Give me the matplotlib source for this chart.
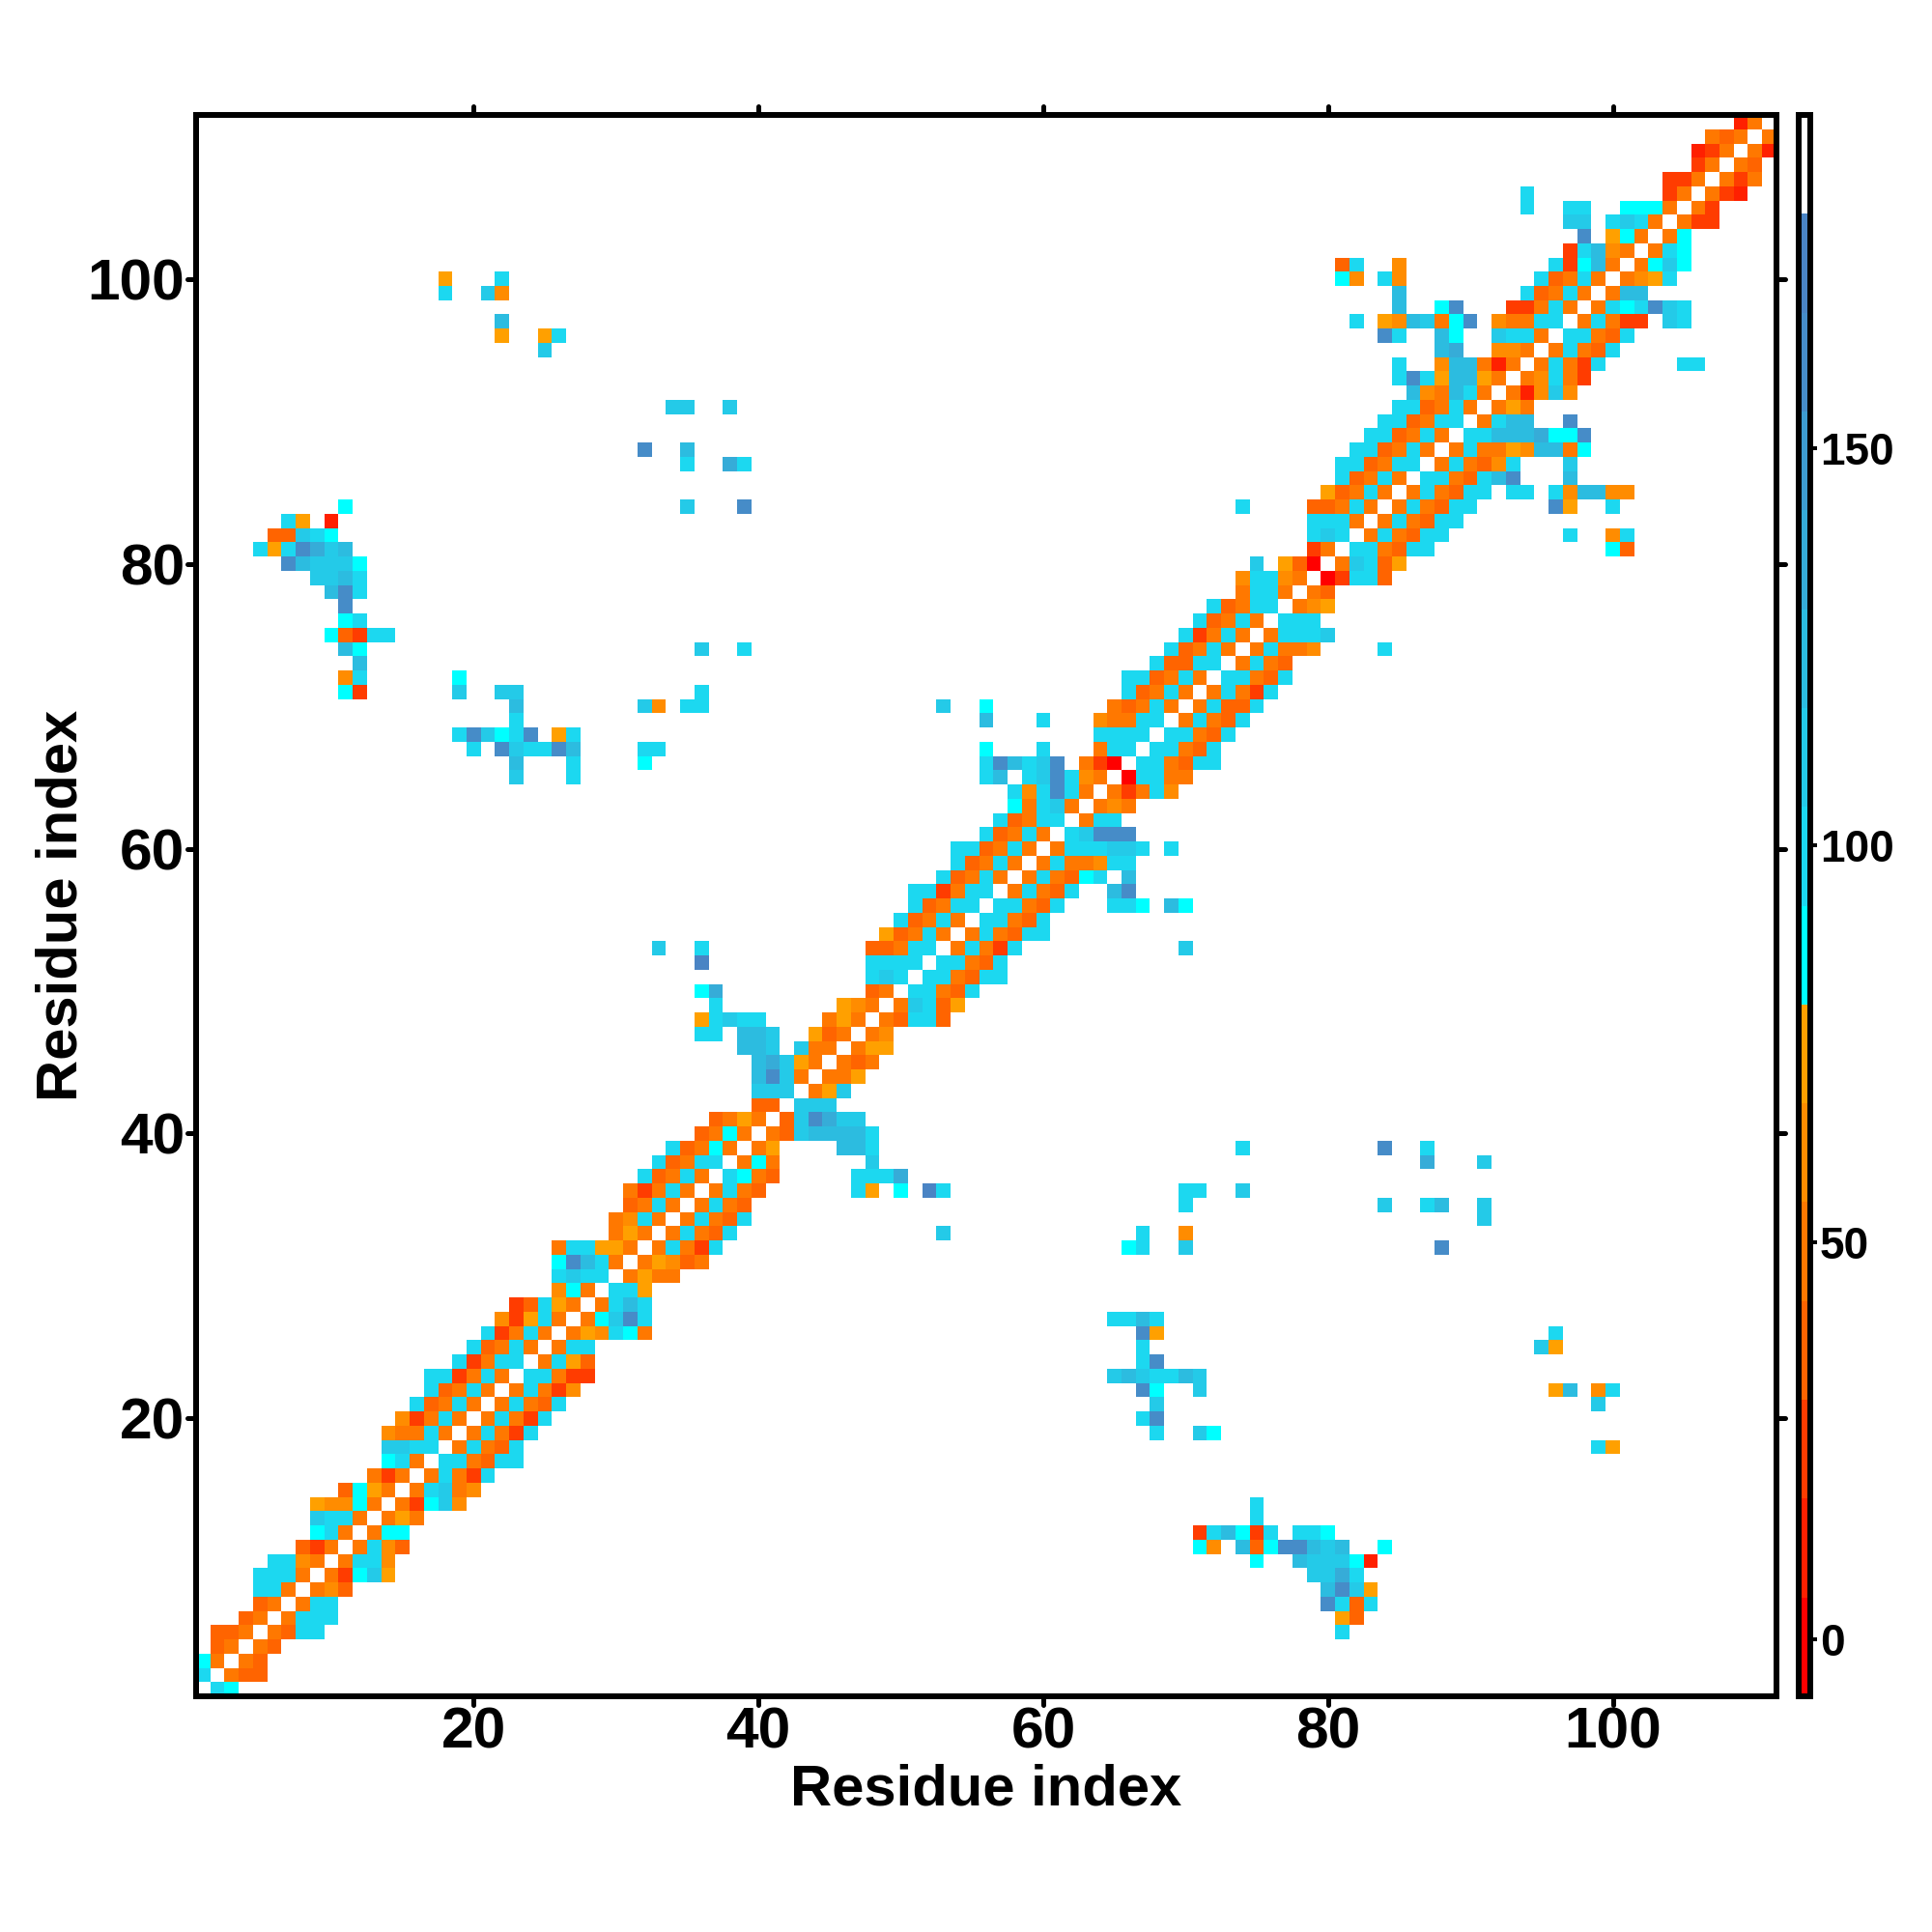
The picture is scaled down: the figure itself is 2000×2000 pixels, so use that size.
import numpy as np
import matplotlib

matplotlib.use("Agg")  # headless
import matplotlib.pyplot as plt
from matplotlib.colors import ListedColormap, BoundaryNorm
from matplotlib.markers import MarkerStyle

plt.rcParams["font.family"] = ["Liberation Sans", "DejaVu Sans"]
plt.rcParams["font.weight"] = "bold"

n_res = 111

# colour classes of the key, red at the bottom, white at the top
key_colors = ["#ff0000", "#ff2000", "#ff3c00", "#ff6400", "#ff7800", "#ff8c00", "#ffa000",
              "#00ffff", "#1cd8f0", "#24cae8", "#2cbce0", "#36acd8", "#3e9cd0", "#468cc8", "#4a84c4",
              "#ffffff"]
key_edges = np.linspace(-7.2, 192.0, 17)
key_centers = (key_edges[:-1] + key_edges[1:]) / 2
key_ticks = [0, 50, 100, 150]
res_ticks = [20, 40, 60, 80, 100]

# one string per residue i, classes (hex) for j = i+1, i+2, ...
near_rows = [
    "87", "433", "43", "43", "4388", "4888", "488", "453", "42796", "4885",
    "4853", "477", "464", "42795", "48945", "48428", "884388", "48438", "48428", "48428",
    "48438", "48425", "88422", "4863", "488", "465874", "479d8", "48a8", "886", "4644",
    "46534", "48428", "48438", "48438", "4843", "4843", "8743", "474", "46", "439aaaa8",
    "39db99", "999", "469", "446", "434", "466", "45", "43883", "49836", "88438",
    "884388", "88438", "48428", "484388", "88438", "88438", "48438", "484378", "4844588", "4888998",
    "89ddd", "488", "454", "42485", "08844", "884388", "88438", "88438", "48438", "48338",
    "48428", "88438", "4843", "48445", "48889", "888", "456", "43", "02883", "49836",
    "884388", "484388", "484388", "484388", "484388", "88438ad", "484358", "484465aa47", "88aaab77d", "48aa",
    "464", "41595", "45842", "48428", "48438", "88438", "48422", "4878d98", "4aa", "4568",
    "4797", "487", "47", "422", "42", "421", "424", "43", "41", "4",
]

# contacts away from the diagonal, residue i -> {residue j: class}
far_rows = {
    5: {81: "8"},
    6: {81: "6", 82: "3"},
    7: {80: "d", 81: "8", 82: "3", 83: "8"},
    8: {80: "a", 81: "d", 82: "9", 83: "6"},
    9: {79: "9", 80: "9", 81: "b", 82: "8"},
    10: {75: "7", 78: "a", 79: "9", 80: "9", 81: "9", 82: "7", 83: "1"},
    11: {71: "7", 72: "5", 74: "a", 75: "3", 76: "7", 77: "d", 78: "d", 79: "a", 80: "9", 81: "a", 84: "7"},
    12: {71: "2", 72: "8", 73: "a", 74: "7", 75: "2", 76: "8", 78: "8", 79: "8", 80: "7"},
    13: {75: "8"},
    14: {75: "8"},
    18: {99: "8", 100: "6"},
    19: {68: "8", 71: "9", 72: "7"},
    20: {67: "8", 68: "d"},
    21: {68: "9", 99: "9"},
    22: {67: "d", 68: "7", 71: "9", 96: "6", 97: "a", 99: "5", 100: "8"},
    23: {65: "9", 66: "a", 67: "9", 68: "8", 69: "8", 70: "a", 71: "9"},
    24: {67: "8", 68: "d"},
    25: {67: "8", 95: "9", 96: "6"},
    26: {67: "d", 68: "6", 96: "8"},
    27: {65: "8", 66: "8", 67: "a", 68: "8"},
    32: {66: "7", 67: "8", 70: "9", 88: "d"},
    33: {53: "9", 67: "8", 70: "5"},
    34: {91: "9"},
    35: {70: "8", 84: "9", 87: "8", 88: "a", 91: "9"},
    36: {47: "8", 48: "6", 50: "7", 52: "e", 53: "8", 70: "8", 71: "8", 74: "9"},
    37: {47: "8", 48: "8", 49: "8", 50: "b"},
    38: {48: "9", 87: "b", 91: "9"},
    39: {46: "a", 47: "a", 48: "8", 74: "8", 84: "d", 87: "8"},
    53: {70: "9"},
    56: {65: "8", 66: "8", 67: "7", 69: "a", 70: "7"},
    57: {65: "a", 66: "d"},
    58: {66: "a"},
    60: {69: "8"},
    74: {84: "8"},
    81: {100: "7", 101: "3"},
    82: {97: "8", 100: "5", 101: "8"},
    84: {96: "d", 97: "6", 100: "8"},
    85: {93: "8", 94: "8", 96: "8", 97: "5", 98: "a", 99: "a", 100: "5", 101: "5"},
    86: {97: "a"},
    87: {97: "9"},
    90: {97: "d"},
    94: {105: "8", 106: "8"},
    97: {104: "9", 105: "8"},
}


def build_matrix():
    m = np.full((n_res, n_res), np.nan)
    for i, row in enumerate(near_rows):
        for k, ch in enumerate(row):
            m[i, i + 1 + k] = key_centers[int(ch, 16)]
    for i, cols in far_rows.items():
        for j, ch in cols.items():
            m[i - 1, j - 1] = key_centers[int(ch, 16)]
    # the map is symmetric
    lower = np.tril_indices(n_res, -1)
    m[lower] = m.T[lower]
    return m


def round_ticks(axis):
    # the reference has rounded tick ends
    for t in axis.get_major_ticks():
        for line in (t.tick1line, t.tick2line):
            line.set_marker(MarkerStyle(line.get_marker(), capstyle="round"))


PX = 0.72  # points per pixel at dpi=100
fig = plt.figure(figsize=(20, 20), dpi=100)
ax = fig.add_axes([203 / 2000, 1 - 1756 / 2000, 1636 / 2000, 1637 / 2000])
cax = fig.add_axes([1862 / 2000, 1 - 1756 / 2000, 12 / 2000, 1637 / 2000])

cmap = ListedColormap(key_colors)
norm = BoundaryNorm(key_edges, cmap.N)
im = ax.imshow(build_matrix(), origin="lower", extent=(0.5, n_res + 0.5, 0.5, n_res + 0.5),
               cmap=cmap, norm=norm, interpolation="nearest", aspect="auto")

ax.set_xticks(res_ticks)
ax.set_yticks(res_ticks)
ax.tick_params(top=True, right=True, length=9 * PX, width=5 * PX, labelsize=43.5)
ax.tick_params(axis="x", pad=2 * PX)
ax.tick_params(axis="y", pad=3 * PX)
round_ticks(ax.xaxis)
round_ticks(ax.yaxis)
for s in ax.spines.values():
    s.set_linewidth(6 * PX)

ax.set_xlabel("Residue index", fontsize=43, fontweight="bold", va="center")
ax.set_ylabel("Residue index", fontsize=43, fontweight="bold", va="center")
ax.xaxis.set_label_coords(0.500, -0.059)
ax.yaxis.set_label_coords(-0.085, 0.500)

cbar = fig.colorbar(im, cax=cax, ticks=key_ticks, spacing="proportional")
cbar.ax.minorticks_off()
cbar.outline.set_linewidth(6 * PX)
cbar.ax.tick_params(length=7 * PX, width=4 * PX, labelsize=33, pad=3 * PX)

fig.savefig("out.png", dpi=100, facecolor="white")
plt.close(fig)
